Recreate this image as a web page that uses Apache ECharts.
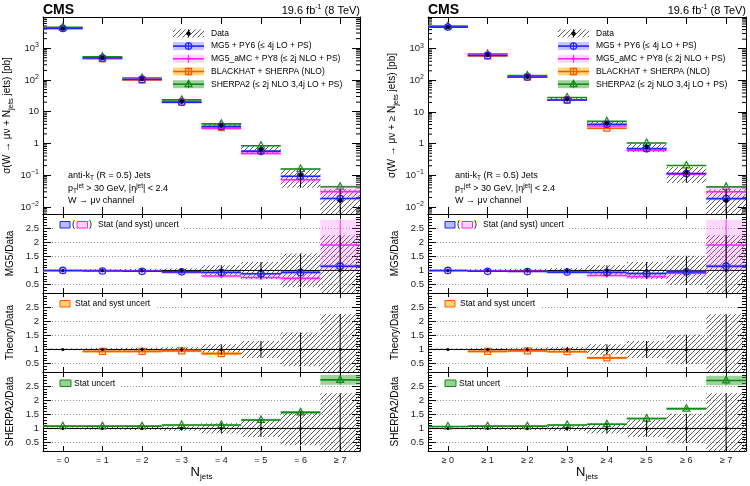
<!DOCTYPE html>
<html>
<head>
<meta charset="utf-8">
<script src="https://cdn.jsdelivr.net/npm/echarts/dist/echarts.min.js"></script>
<style>
html, body { margin: 0; padding: 0; background: #fff; }
#main { width: 750px; height: 486px; }
</style>
</head>
<body>
<div id="main"></div>
<script>
var catsExcl = ['= 0', '= 1', '= 2', '= 3', '= 4', '= 5', '= 6', '≥ 7'];
var catsIncl = ['≥ 0', '≥ 1', '≥ 2', '≥ 3', '≥ 4', '≥ 5', '≥ 6', '≥ 7'];

// exclusive jet multiplicity (left)
var dataExcl = [4200, 500, 107, 21, 3.7, 0.65, 0.10, 0.016];
var dataErrExcl = [0.03, 0.05, 0.06, 0.08, 0.18, 0.30, 0.60, 1.25];
var mg5Excl = [1.00, 0.98, 0.97, 0.95, 0.93, 0.88, 0.93, 1.15];
var mg5ErrExcl = [0.02, 0.02, 0.02, 0.03, 0.04, 0.05, 0.05, 0.06];
var amcExcl = [0.99, 1.00, 0.98, 0.93, 0.80, 0.75, 0.72, 1.90];
var amcErrExcl = [0.03, 0.03, 0.04, 0.05, 0.07, 0.08, 0.15, 0.90];
var bhExcl = [null, 0.93, 0.93, 0.95, 0.85, null, null, null];
var bhErrExcl = [null, 0.05, 0.05, 0.05, 0.06, null, null, null];
var sherpaExcl = [1.08, 1.08, 1.08, 1.12, 1.12, 1.30, 1.57, 2.72];
var sherpaErrExcl = [0.02, 0.02, 0.02, 0.03, 0.03, 0.04, 0.05, 0.17];

// inclusive jet multiplicity (right)
var dataIncl = [4800, 630, 132, 25.5, 4.4, 0.78, 0.12, 0.016];
var dataErrIncl = [0.03, 0.05, 0.06, 0.09, 0.18, 0.30, 0.52, 1.25];
var mg5Incl = [1.00, 0.97, 0.96, 0.94, 0.93, 0.89, 0.95, 1.15];
var mg5ErrIncl = [0.02, 0.02, 0.02, 0.03, 0.04, 0.05, 0.05, 0.06];
var amcIncl = [0.99, 0.99, 0.97, 0.93, 0.82, 0.78, 0.90, 1.90];
var amcErrIncl = [0.03, 0.03, 0.04, 0.05, 0.07, 0.08, 0.12, 0.90];
var bhIncl = [null, 0.93, 0.95, 0.92, 0.70, null, null, null];
var bhErrIncl = [null, 0.05, 0.05, 0.05, 0.05, null, null, null];
var sherpaIncl = [1.07, 1.08, 1.08, 1.12, 1.15, 1.35, 1.70, 2.70];
var sherpaErrIncl = [0.02, 0.02, 0.02, 0.03, 0.03, 0.04, 0.05, 0.17];

var legendLabels = ['Data', 'MG5 + PY6 (≤ 4j LO + PS)', 'MG5_aMC + PY8 (≤ 2j NLO + PS)',
    'BLACKHAT + SHERPA (NLO)', 'SHERPA2 (≤ 2j NLO 3,4j LO + PS)'];
var ratioTitles = ['MG5/Data', 'Theory/Data', 'SHERPA2/Data'];

var FONT = '"Liberation Sans", Arial, sans-serif';

// log-axis minor tick positions (2..9 x 10^n) for the main panels
var logMinorTicks = [];
for (var n = -3; n <= 4; n++) {
    for (var k = 2; k <= 9; k++) logMinorTicks.push([0, k * Math.pow(10, n)]);
}

// hatch pattern for the data uncertainty
var hatchCanvas = (function () {
    var c = document.createElement('canvas');
    c.width = 5; c.height = 5;
    var ctx = c.getContext('2d');
    ctx.strokeStyle = '#4a4a4a';
    ctx.lineWidth = 0.9;
    ctx.beginPath();
    ctx.moveTo(0, 5); ctx.lineTo(5, 0);
    ctx.moveTo(-1, 1); ctx.lineTo(1, -1);
    ctx.moveTo(4, 6); ctx.lineTo(6, 4);
    ctx.stroke();
    return c;
})();
var hatch = { image: hatchCanvas, repeat: 'repeat' };

var models = {
    mg5: { fill: 'rgba(90,90,255,0.35)', color: '#2424ff', marker: 'circle', box: 'rgba(120,120,255,0.5)' },
    amc: { fill: 'rgba(255,100,255,0.25)', color: '#ff20ff', marker: 'diamond', box: 'rgba(255,150,255,0.4)' },
    bh: { fill: 'rgba(255,190,40,0.6)', color: '#ff5a00', marker: 'square', box: 'rgba(255,200,80,0.8)' },
    sh: { fill: 'rgba(60,165,60,0.5)', color: '#138a13', marker: 'triangle', box: 'rgba(80,180,80,0.6)' }
};

function marker(kind, x, y, color) {
    if (kind === 'dot') return { type: 'circle', shape: { cx: x, cy: y, r: 2.2 }, style: { fill: '#000' } };
    if (kind === 'sdot') return { type: 'circle', shape: { cx: x, cy: y, r: 1.5 }, style: { fill: '#000' } };
    if (kind === 'circle') return { type: 'circle', shape: { cx: x, cy: y, r: 3.2 }, style: { fill: 'none', stroke: color, lineWidth: 1.3 } };
    if (kind === 'diamond') return { type: 'polygon', shape: { points: [[x, y - 2.6], [x + 2, y], [x, y + 2.6], [x - 2, y]] }, style: { fill: color } };
    if (kind === 'square') return { type: 'rect', shape: { x: x - 3, y: y - 3, width: 6, height: 6 }, style: { fill: 'none', stroke: color, lineWidth: 1.3 } };
    return { type: 'polygon', shape: { points: [[x, y - 4], [x + 3.5, y + 2.5], [x - 3.5, y + 2.5]] }, style: { fill: 'none', stroke: color, lineWidth: 1.2 } };
}

// one bin: band from lo to hi, horizontal line at value, vertical bar and marker
function binRenderer(o) {
    return function (params, api) {
        var cs = params.coordSys;
        var i = api.value(0), v = api.value(1);
        var w = cs.width / 8;
        var p = api.coord([i, v]);
        var x0 = p[0] - w / 2, x1 = p[0] + w / 2;
        var yTop = Math.max(api.coord([i, api.value(3)])[1], cs.y);
        var yBot = Math.min(api.coord([i, api.value(2)])[1], cs.y + cs.height);
        var kids = [];
        if (o.fill) kids.push({ type: 'rect', shape: { x: x0, y: yTop, width: w, height: yBot - yTop }, style: { fill: o.fill } });
        if (o.line) kids.push({ type: 'line', shape: { x1: x0, y1: p[1], x2: x1, y2: p[1] }, style: { stroke: o.line, lineWidth: o.lw || 1.6 } });
        if (o.bar) kids.push({ type: 'line', shape: { x1: p[0], y1: yTop, x2: p[0], y2: yBot }, style: { stroke: o.bar, lineWidth: 1 } });
        if (o.marker) kids.push(marker(o.marker, p[0], p[1], o.color));
        return { type: 'group', children: kids };
    };
}

// minor ticks of a log axis, drawn on both frame edges
function minorTickRenderer(params, api) {
    var cs = params.coordSys;
    var y = api.coord([0, api.value(1)])[1];
    if (y < cs.y || y > cs.y + cs.height) return;
    return {
        type: 'group', children: [
            { type: 'line', shape: { x1: cs.x, y1: y, x2: cs.x + 4, y2: y }, style: { stroke: '#000', lineWidth: 1 } },
            { type: 'line', shape: { x1: cs.x + cs.width - 4, y1: y, x2: cs.x + cs.width, y2: y }, style: { stroke: '#000', lineWidth: 1 } }
        ]
    };
}

var lefts = [43, 428], widths = [317, 318];
var tops = [17, 214, 293, 372], heights = [197, 79, 79, 79];
var logMax = [9600, 10000];

var sides = [
    { cats: catsExcl, data: dataExcl, dErr: dataErrExcl, mg5: mg5Excl, mg5E: mg5ErrExcl, amc: amcExcl, amcE: amcErrExcl,
      bh: bhExcl, bhE: bhErrExcl, sh: sherpaExcl, shE: sherpaErrExcl, ytitle: 'σ(W → μν + N{sub|jets} jets) [pb]' },
    { cats: catsIncl, data: dataIncl, dErr: dataErrIncl, mg5: mg5Incl, mg5E: mg5ErrIncl, amc: amcIncl, amcE: amcErrIncl,
      bh: bhIncl, bhE: bhErrIncl, sh: sherpaIncl, shE: sherpaErrIncl, ytitle: 'σ(W → μν + ≥ N{sub|jets} jets) [pb]' }
];

var grids = [], xAxes = [], yAxes = [], series = [], graphics = [];

function xAxisCfg(g, cats, pos, labels, isMain) {
    return {
        type: 'category', gridIndex: g, position: pos, data: cats, boundaryGap: true,
        axisLine: { show: true, lineStyle: { color: '#000', width: 1 } },
        axisTick: { show: true, inside: true, alignWithLabel: true, interval: 0, length: isMain ? 7 : 5, lineStyle: { color: '#000' } },
        axisLabel: { show: labels, interval: 0, color: '#222', fontSize: 9, margin: 5, fontFamily: FONT },
        splitLine: { show: false },
        name: labels ? '{n|N}{s|jets}' : '', nameLocation: 'middle', nameGap: 13,
        nameTextStyle: { color: '#000', fontFamily: FONT, rich: { n: { fontSize: 13, fontFamily: FONT }, s: { fontSize: 8, padding: [9, 0, 0, 0], fontFamily: FONT } } }
    };
}

function logLabel(v) {
    var e = Math.round(Math.log(v) / Math.LN10);
    if (e === 0) return '1';
    if (e === 1) return '10';
    return '10{sup|' + (e < 0 ? '−' + (-e) : e) + '}';
}

function yAxisCfg(g, s, pos, labels, isMain, title) {
    var ax = {
        gridIndex: g, position: pos,
        axisLine: { show: true, lineStyle: { color: '#000', width: 1 } },
        axisTick: { show: true, inside: true, length: 8, lineStyle: { color: '#000' } },
        minorTick: { show: !isMain, splitNumber: 5, length: 4, lineStyle: { color: '#000' } },
        axisLabel: { show: labels, color: '#222', fontSize: 9.5, margin: 4, fontFamily: FONT, showMinLabel: false, showMaxLabel: false },
        name: title || '', nameLocation: 'middle', nameGap: 28, nameRotate: 90,
        nameTextStyle: { color: '#000', fontSize: 10, fontFamily: FONT, rich: { sub: { fontSize: 7.5, padding: [7, 0, 0, 0], fontFamily: FONT } } }
    };
    if (isMain) {
        ax.type = 'log';
        ax.logBase = 10;
        ax.min = 0.006;
        ax.max = logMax[s];
        ax.splitLine = { show: false };
        ax.axisLabel.formatter = logLabel;
        ax.axisLabel.rich = { sup: { fontSize: 7, padding: [0, 0, 6, 0], fontFamily: FONT } };
    } else {
        ax.type = 'value';
        ax.min = 0.2;
        ax.max = 3;
        ax.splitNumber = 5;
        ax.splitLine = { show: labels, lineStyle: { color: '#9a9a9a', type: [1, 2], width: 1 } };
    }
    return ax;
}

function addSeries(g, items, o) {
    series.push({
        type: 'custom', xAxisIndex: 2 * g, yAxisIndex: 2 * g, silent: true,
        encode: { x: 0, y: 1 }, renderItem: binRenderer(o), data: items
    });
}

function txt(x, y, text, font, align, rich) {
    var st = { text: text, font: font, fill: '#000', align: align || 'left', verticalAlign: 'middle' };
    if (rich) st.rich = rich;
    return { type: 'text', x: x, y: y, z: 10, silent: true, style: st };
}
function box(x, y, w, h, fill, stroke) {
    return { type: 'rect', z: 10, silent: true, shape: { x: x, y: y, width: w, height: h }, style: { fill: fill, stroke: stroke || null, lineWidth: 1 } };
}

sides.forEach(function (sd, s) {
    var L = lefts[s], R = lefts[s] + widths[s];
    for (var r = 0; r < 4; r++) {
        var g = s * 4 + r;
        grids.push({ left: L, width: widths[s], top: tops[r], height: heights[r], outerBoundsMode: 'none' });
        xAxes.push(xAxisCfg(g, sd.cats, 'bottom', r === 3, r === 0));
        xAxes.push(xAxisCfg(g, sd.cats, 'top', false, r === 0));
        yAxes.push(yAxisCfg(g, s, 'left', true, r === 0, r === 0 ? sd.ytitle : ratioTitles[r - 1]));
        yAxes.push(yAxisCfg(g, s, 'right', false, r === 0, ''));
    }

    // main panel
    var g0 = s * 4;
    series.push({
        type: 'custom', xAxisIndex: 2 * g0, yAxisIndex: 2 * g0, silent: true,
        encode: { x: 0, y: 1 }, renderItem: minorTickRenderer, data: logMinorTicks
    });
    var hatchItems = sd.data.map(function (d, i) {
        return [i, d, Math.max(d * (1 - sd.dErr[i]), 1e-4), d * (1 + sd.dErr[i])];
    });
    addSeries(g0, hatchItems, { fill: hatch });
    ['sh', 'bh', 'amc', 'mg5'].forEach(function (k) {
        var m = models[k], items = [];
        sd[k].forEach(function (v, i) {
            if (v == null) return;
            var e = sd[k + 'E'][i], d = sd.data[i];
            items.push([i, d * v, d * (v - e), d * (v + e)]);
        });
        addSeries(g0, items, { fill: m.fill, line: m.color, bar: m.color, marker: m.marker, color: m.color });
    });
    addSeries(g0, hatchItems, { bar: '#000', marker: 'dot' });

    // ratio panels
    var ratioItems = sd.dErr.map(function (e, i) { return [i, 1, 1 - e, 1 + e]; });
    [['amc', 'mg5'], ['bh'], ['sh']].forEach(function (keys, p) {
        var g = s * 4 + 1 + p;
        addSeries(g, ratioItems, { fill: hatch, line: '#000', lw: 1 });
        keys.forEach(function (k) {
            var m = models[k], items = [];
            sd[k].forEach(function (v, i) {
                if (v == null) return;
                var e = sd[k + 'E'][i];
                items.push([i, v, v - e, v + e]);
            });
            addSeries(g, items, { fill: m.fill, line: m.color, bar: m.color, marker: m.marker, color: m.color });
        });
        addSeries(g, ratioItems, { bar: '#000', marker: 'sdot' });
    });

    // header
    graphics.push(txt(L, 10.5, 'CMS', 'bold 14px ' + FONT, 'left'));
    graphics.push(txt(R, 10.5, '19.6 fb{sup|-1} (8 TeV)', '11px ' + FONT, 'right',
        { sup: { font: '7px ' + FONT, padding: [0, 0, 6, 0] } }));

    // main legend
    var keys = ['data', 'mg5', 'amc', 'bh', 'sh'];
    keys.forEach(function (k, j) {
        var y = 33.4 + j * 12.7, x0 = L + 130, x1 = L + 161, xc = (x0 + x1) / 2;
        if (k === 'data') {
            graphics.push(box(x0, y - 4, x1 - x0, 8, hatch));
            graphics.push({ type: 'line', z: 10, silent: true, shape: { x1: xc, y1: y - 4, x2: xc, y2: y + 4 }, style: { stroke: '#000', lineWidth: 1 } });
            var dm = marker('dot', xc, y); dm.z = 11; graphics.push(dm);
        } else {
            var m = models[k];
            graphics.push(box(x0, y - 4, x1 - x0, 8, m.fill));
            graphics.push({ type: 'line', z: 10, silent: true, shape: { x1: x0, y1: y, x2: x1, y2: y }, style: { stroke: m.color, lineWidth: 1.6 } });
            graphics.push({ type: 'line', z: 10, silent: true, shape: { x1: xc, y1: y - 4, x2: xc, y2: y + 4 }, style: { stroke: m.color, lineWidth: 1 } });
            var mk = marker(m.marker, xc, y, m.color); mk.z = 11; graphics.push(mk);
        }
        graphics.push(txt(L + 168, y, legendLabels[j], '8.5px ' + FONT, 'left'));
    });

    // jet selection annotation
    var ax = L + 25 + s * 2;
    var sr = { sub: { font: '6.5px ' + FONT, padding: [5, 0, 0, 0] }, sup: { font: '6.5px ' + FONT, padding: [0, 0, 5, 0] } };
    graphics.push(txt(ax, 176, 'anti-k{sub|T} (R = 0.5) Jets', '9px ' + FONT, 'left', sr));
    graphics.push(txt(ax, 189, 'p{sub|T}{sup|jet} > 30 GeV, |η{sup|jet}| < 2.4', '9px ' + FONT, 'left', sr));
    graphics.push(txt(ax, 201, 'W → μν channel', '9px ' + FONT, 'left'));

    // ratio legends
    var bx = L + 17;
    graphics.push(box(L + 10, 218, 131, 13, '#fff'));
    graphics.push(box(bx, 221.5, 10, 6.5, models.mg5.box, models.mg5.color));
    graphics.push(txt(bx + 12, 224.7, '(', '9px ' + FONT, 'left'));
    graphics.push(box(bx + 17, 221.5, 10.5, 6.5, models.amc.box, models.amc.color));
    graphics.push(txt(bx + 29, 224.7, ')', '9px ' + FONT, 'left'));
    graphics.push(txt(L + 55, 224.7, 'Stat (and syst) uncert', '8.5px ' + FONT, 'left'));

    graphics.push(box(L + 10, 297, 103, 13, '#fff'));
    graphics.push(box(bx, 300.5, 10, 6.5, models.bh.box, models.bh.color));
    graphics.push(txt(L + 32, 303.8, 'Stat and syst uncert', '8.5px ' + FONT, 'left'));

    graphics.push(box(L + 10, 377, 67, 13, '#fff'));
    graphics.push(box(bx, 380, 11, 6.5, models.sh.box, models.sh.color));
    graphics.push(txt(L + 31, 383.3, 'Stat uncert', '8.5px ' + FONT, 'left'));
});

var chart = echarts.init(document.getElementById('main'), null, { renderer: 'canvas' });
var option = {
    animation: false,
    backgroundColor: '#fff',
    textStyle: { fontFamily: FONT },
    grid: grids,
    xAxis: xAxes,
    yAxis: yAxes,
    series: series,
    graphic: { elements: graphics }
};
chart.setOption(option);
</script>
</body>
</html>
